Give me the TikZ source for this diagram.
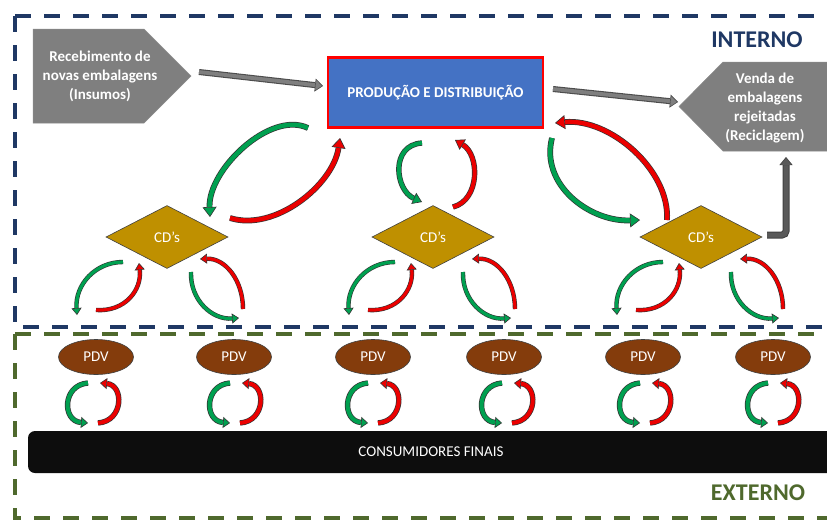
\documentclass[tikz,border=0pt]{standalone}
\usepackage{fontspec}
\setmainfont{Carlito}
\usetikzlibrary{arrows.meta,shapes.geometric}
\definecolor{navy}{RGB}{31,56,100}
\definecolor{olive}{RGB}{79,105,45}
\definecolor{prodblue}{RGB}{68,114,196}
\definecolor{gold}{RGB}{191,144,0}
\definecolor{brownpdv}{RGB}{132,60,12}
\definecolor{boxgray}{RGB}{127,127,127}
\definecolor{elbowgray}{RGB}{89,89,89}
\definecolor{agreen}{RGB}{0,160,80}
\definecolor{ared}{RGB}{235,0,0}
\definecolor{consblack}{RGB}{13,13,13}
% #1 colour, #2 outline width, #3 band width, #4 head length, #5 head width, #6..#9 bezier points
\newcommand\curvarrow[9]{%
  \draw[line width=#2, black!80, shorten >=#4] #6 .. controls #7 and #8 .. #9;
  \draw[line width=#3, #1, -{Triangle[length=#4, width=#5, fill=#1, color=black!80, line width=0.6pt]}] #6 .. controls #7 and #8 .. #9;
}
\tikzset{
  lbl/.style={font=\fontsize{15}{19}\selectfont, text=white, inner sep=0pt},
  boldlbl/.style={font=\fontsize{15}{19}\selectfont\bfseries, text=white, align=center, inner sep=0pt},
  frameblue/.style={navy, line width=3.5pt, dash pattern=on 16pt off 13pt},
  framegreen/.style={olive, line width=3.5pt, dash pattern=on 16pt off 13pt},
  cdbox/.style={diamond, fill=gold, draw=black!75, line width=0.6pt, minimum width=122pt, minimum height=63pt, inner sep=0pt, lbl},
  pdvbox/.style={ellipse, fill=brownpdv, draw=black!75, line width=0.6pt, minimum width=75pt, minimum height=35pt, inner sep=0pt, lbl},
  cdloops/.pic={
    \curvarrow{agreen}{4.4pt}{3.2pt}{7pt}{10pt}{(-44,25)}{(-72,25)}{(-92,48)}{(-90,78)}
    \curvarrow{ared}{4.4pt}{3.2pt}{7pt}{10pt}{(-71,73)}{(-42,75)}{(-25,53)}{(-28,26)}
    \curvarrow{ared}{4.4pt}{3.2pt}{7pt}{10pt}{(76,72)}{(76,43)}{(58,21)}{(33,22)}
    \curvarrow{agreen}{4.4pt}{3.2pt}{7pt}{10pt}{(24,35)}{(23,63)}{(45,83)}{(72,81)}
  },
  pdvloops/.pic={
    \curvarrow{agreen}{5.4pt}{4pt}{7pt}{11pt}{(-8,26)}{(-34,28)}{(-34,64)}{(-8,66)}
    \curvarrow{ared}{5.4pt}{4pt}{7pt}{11pt}{(2,66)}{(28,64)}{(28,28)}{(4,26)}
  }
}
\begin{document}
\begin{tikzpicture}[x=1pt, y=-1pt]
\useasboundingbox (0,0) rectangle (827,520);
\clip (0,0) rectangle (827,520);
\fill[white] (0,0) rectangle (827,520);

% frames
\draw[frameblue] (15,16) -- (850,16);
\draw[frameblue] (15,16) -- (15,327) -- (850,327);
\draw[framegreen] (15,334) -- (850,334);
\draw[framegreen] (15,334) -- (15,518) -- (850,518);

\node[font=\fontsize{24}{28}\selectfont\bfseries, text=navy] (interno) at (757,40) {INTERNO};
\node[font=\fontsize{24}{28}\selectfont\bfseries, text=olive] (externo) at (758,493) {EXTERNO};

% pentagons
\fill[boxgray, draw=black!45, line width=0.5pt] (33,29) -- (144,29) -- (191,76) -- (144,123) -- (33,123) -- cycle;
\node[boldlbl] (rec) at (100,76) {Recebimento de\\novas embalagens\\(Insumos)};
\fill[boxgray, draw=black!45, line width=0.5pt] (840,62) -- (723,62) -- (679,106.5) -- (723,151) -- (840,151) -- cycle;
\node[boldlbl] (venda) at (765,108) {Venda de\\embalagens\\rejeitadas\\(Reciclagem)};

% production box
\node[rectangle, fill=prodblue, draw=red, line width=2.2pt, minimum width=215pt, minimum height=70pt, inner sep=0pt,
      font=\fontsize{15}{19}\selectfont\bfseries, text=white] (prod) at (435.5,92.5) {PRODUÇÃO E DISTRIBUIÇÃO};

% CDs
\node[cdbox] (cd1) at (167,237) {CD’s};
\node[cdbox] (cd2) at (433,237) {CD’s};
\node[cdbox] (cd3) at (701,237) {CD’s};

% PDVs
\node[pdvbox] (pdv1) at (96,357) {PDV};
\node[pdvbox] (pdv2) at (234,357) {PDV};
\node[pdvbox] (pdv3) at (373,357) {PDV};
\node[pdvbox] (pdv4) at (504,357) {PDV};
\node[pdvbox] (pdv5) at (643,357) {PDV};
\node[pdvbox] (pdv6) at (773,357) {PDV};

% consumers bar
\node[rectangle, rounded corners=7pt, fill=consblack, minimum width=806pt, minimum height=42pt, inner sep=0pt, lbl] (cons) at (431,452) {CONSUMIDORES FINAIS};

% gray straight arrows
\coordinate (a1s) at (199,72);
\coordinate (a1e) at (323,86);
\coordinate (a2s) at (553,89);
\coordinate (a2e) at (678,102);
\draw[line width=6pt, black!70, shorten >=8pt] (a1s) -- (a1e);
\draw[line width=3.8pt, boxgray, -{Triangle[length=8pt, width=13pt, fill=boxgray, color=black!70, line width=0.6pt]}] (a1s) -- (a1e);
\draw[line width=6pt, black!70, shorten >=8pt] (a2s) -- (a2e);
\draw[line width=3.8pt, boxgray, -{Triangle[length=8pt, width=13pt, fill=boxgray, color=black!70, line width=0.6pt]}] (a2s) -- (a2e);

% elbow arrow
\coordinate (e1s) at (767,235);
\coordinate (e1e) at (786,157);
\draw[line width=7pt, black!75, rounded corners=4pt, shorten >=8pt] (e1s) -| (e1e);
\draw[line width=5pt, elbowgray, rounded corners=4pt, -{Triangle[length=8pt, width=13pt, fill=elbowgray, color=black!75, line width=0.6pt]}] (e1s) -| (e1e);

% big curved arrows: production <-> CDs
\curvarrow{agreen}{5.8pt}{4.4pt}{10pt}{14pt}{(308,128)}{(270,110)}{(208,170)}{(210,217)}
\curvarrow{ared}{5.8pt}{4.4pt}{10pt}{14pt}{(230,218)}{(275,232)}{(333,185)}{(340,138)}
\curvarrow{agreen}{5.4pt}{4pt}{9pt}{12pt}{(422,143)}{(390,145)}{(395,190)}{(422,202)}
\curvarrow{ared}{5.4pt}{4pt}{9pt}{12pt}{(453,207)}{(480,200)}{(480,155)}{(455,140)}
\curvarrow{ared}{5.8pt}{4.4pt}{10pt}{14pt}{(667,220)}{(670,170)}{(610,118)}{(555,123)}
\curvarrow{agreen}{5.8pt}{4.4pt}{10pt}{14pt}{(552,138)}{(540,185)}{(590,222)}{(640,220)}

% CD <-> PDV loops
\pic at (167,237) {cdloops};
\pic at (439,237) {cdloops};
\pic at (707,237) {cdloops};

% PDV <-> consumer loops
\pic at (96,357) {pdvloops};
\pic at (238,357) {pdvloops};
\pic at (376,357) {pdvloops};
\pic at (510,357) {pdvloops};
\pic at (648,357) {pdvloops};
\pic at (776,357) {pdvloops};
\end{tikzpicture}
\end{document}
